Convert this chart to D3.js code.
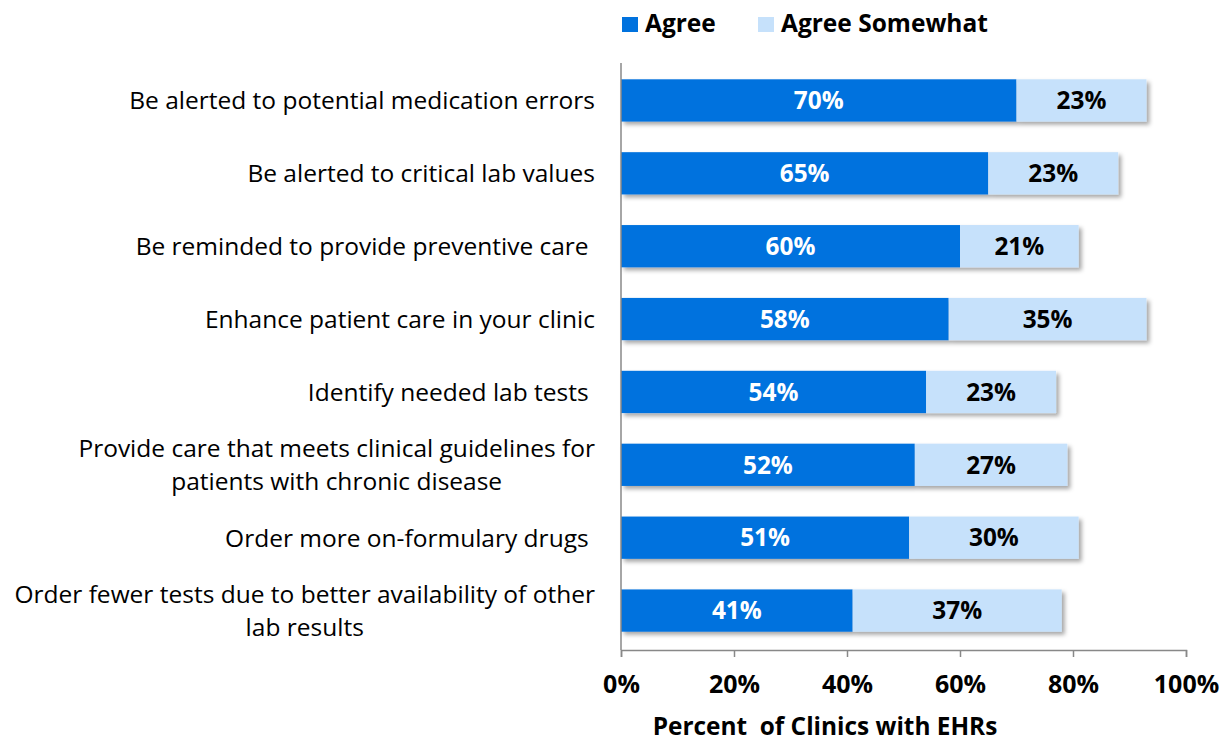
<!DOCTYPE html>
<html><head><meta charset="utf-8">
<script src="https://cdn.jsdelivr.net/npm/d3@7"></script>
<style>body{margin:0;background:#fff}svg{display:block}text{font-family:"Open Sans",Lato,sans-serif}</style>
</head><body>
<svg id="c" width="1229" height="742"></svg>
<script>
const categories = [
  ["Be alerted to potential medication errors"],
  ["Be alerted to critical lab values"],
  ["Be reminded to provide preventive care "],
  ["Enhance patient care in your clinic"],
  ["Identify needed lab tests "],
  ["Provide care that meets clinical guidelines for","patients with chronic disease"],
  ["Order more on-formulary drugs "],
  ["Order fewer tests due to better availability of other","lab results"]
];
const agree = [70,65,60,58,54,52,51,41];
const agreeSomewhat = [23,23,21,35,23,27,30,37];
const seriesNames = ["Agree","Agree Somewhat"];
const tickValues = [0,20,40,60,80,100];
const colors = ["#0072DE","#C6E1FB"];

const svg = d3.select("#c");
const x = d3.scaleLinear().domain([0,100]).range([621,1186]);
const y = d3.scaleBand().domain(d3.range(categories.length)).range([64,647]).paddingInner(0.42).paddingOuter(0.21);

const defs = svg.append("defs");
const f = defs.append("filter").attr("id","sh").attr("x","-5%").attr("y","-20%").attr("width","115%").attr("height","160%");
f.append("feDropShadow").attr("dx",3).attr("dy",3).attr("stdDeviation",2).attr("flood-color","#000").attr("flood-opacity",0.35);

const g = svg.append("g");
categories.forEach((c,i)=>{
  const gg = g.append("g").attr("filter","url(#sh)");
  gg.append("rect").attr("x",x(0)).attr("y",y(i)).attr("width",x(agree[i])-x(0)).attr("height",y.bandwidth()).attr("fill",colors[0]);
  gg.append("rect").attr("x",x(agree[i])).attr("y",y(i)).attr("width",x(agree[i]+agreeSomewhat[i])-x(agree[i])).attr("height",y.bandwidth()).attr("fill",colors[1]);
});
categories.forEach((c,i)=>{
  const cy = y(i)+y.bandwidth()/2;
  g.append("text").attr("x",(x(0)+x(agree[i]))/2).attr("y",cy).attr("dy","0.36em").attr("text-anchor","middle")
    .attr("fill","#fff").attr("font-weight","bold").attr("font-size",24.4).text(agree[i]+"%");
  g.append("text").attr("x",(x(agree[i])+x(agree[i]+agreeSomewhat[i]))/2).attr("y",cy).attr("dy","0.36em").attr("text-anchor","middle")
    .attr("fill","#000").attr("font-weight","bold").attr("font-size",24.4).text(agreeSomewhat[i]+"%");
  const n = c.length;
  const texts = c.map((line,j)=> g.append("text").attr("text-anchor","middle").attr("font-size",24.5).attr("fill","#000")
      .attr("y",cy + (j-(n-1)/2)*33).attr("dy","0.36em").style("white-space","pre").text(line));
  const w = d3.max(texts, t=>t.node().getComputedTextLength());
  texts.forEach(t=>t.attr("x",595 - w/2));
});

const axG = svg.append("g").attr("transform","translate(0,650)");
const ax = d3.axisBottom(x).tickValues(tickValues).tickSize(7).tickFormat(d=>d+"%");
axG.call(ax);
axG.select(".domain").attr("stroke","#888").attr("stroke-width",1.5);
axG.selectAll(".tick line").attr("stroke","#888").attr("stroke-width",1.5);
axG.selectAll(".tick text").attr("font-size",25).attr("font-weight","bold").attr("fill","#000").attr("font-family","'Open Sans',Lato,sans-serif").attr("y",25);
svg.append("line").attr("x1",x(0)).attr("x2",x(0)).attr("y1",63).attr("y2",650).attr("stroke","#888").attr("stroke-width",1.5);

svg.append("text").attr("x",825).attr("y",735).attr("text-anchor","middle").attr("font-size",24.4).attr("font-weight","bold").style("white-space","pre").text("Percent  of Clinics with EHRs");

const lg = svg.append("g");
const lx = [622,758];
seriesNames.forEach((s,i)=>{
  lg.append("rect").attr("x",lx[i]).attr("y",17).attr("width",16).attr("height",15).attr("fill",colors[i]);
  lg.append("text").attr("x",lx[i]+23).attr("y",23).attr("dy","0.36em").attr("font-size",24.5).attr("font-weight","bold").text(s);
});
</script>
</body></html>
